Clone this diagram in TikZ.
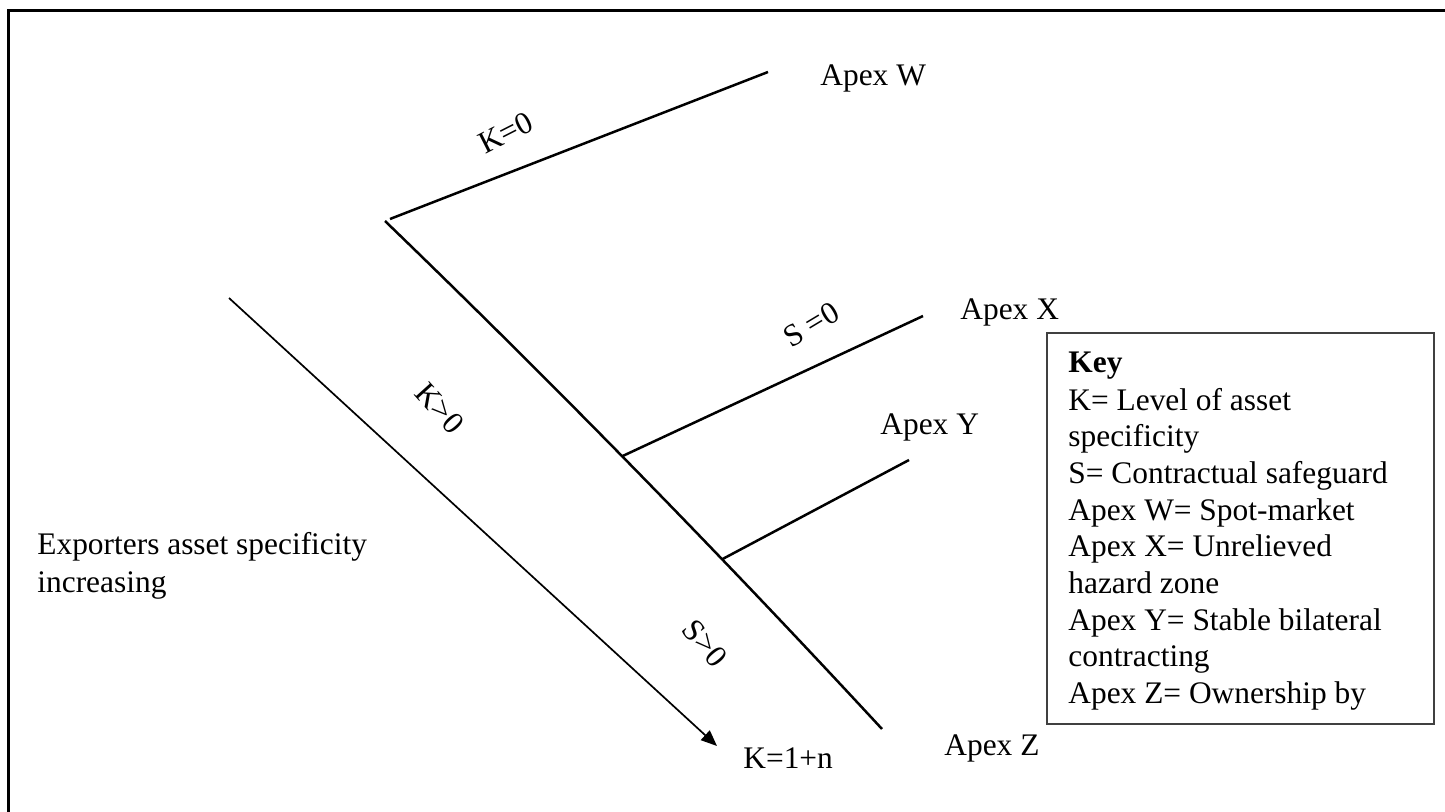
\documentclass[tikz,border=0pt]{standalone}
\usepackage{fontspec}
\setmainfont{Liberation Serif}
\usetikzlibrary{arrows.meta}
\begin{document}
\begin{tikzpicture}[x=0.5pt,y=-0.5pt,
  lbl/.style={inner sep=0pt,anchor=base west,font=\fontsize{15.7}{18.35}\selectfont},
  rlbl/.style={inner sep=0pt,anchor=center,font=\fontsize{15.7}{18.35}\selectfont},
  thickline/.style={line width=1.25pt,line cap=butt},
  arrowline/.style={line width=0.85pt,-{Triangle[length=8pt,width=6.5pt]}},
  frame/.style={line width=1.5pt},
  keybox/.style={draw=black!75,line width=0.8pt}]
\useasboundingbox (0,0) rectangle (1445,812);
% outer frame (only left and top visible)
\draw[frame] (8,812) -- (8,10.5) -- (1445,10.5);
% coordinates
\coordinate (top) at (385,221);
\coordinate (bot) at (882,729);
\coordinate (wstart) at (390,219);
\coordinate (wend) at (768,72);
\coordinate (xend) at (923,316);
\coordinate (yend) at (909,460);
\coordinate (astart) at (229,298);
\coordinate (aend) at (717,746);
% main curved line
\draw[thickline] (top) .. controls (555.5,385.6) and (721,555) ..
  coordinate[pos=0.47] (bx) coordinate[pos=0.672] (by) (bot);
% branches
\draw[thickline] (wstart) -- (wend);
\draw[thickline] (bx) -- (xend);
\draw[thickline] (by) -- (yend);
% arrow
\draw[arrowline] (astart) -- (aend);
% labels
\node[lbl] (apw) at (820,86) {Apex W};
\node[lbl] (apx) at (960,320) {Apex X};
\node[lbl] (apy) at (880,435) {Apex Y};
\node[lbl] (apz) at (944,755) {Apex Z};
\node[lbl] (kn) at (743,768) {K=1+n};
\node[rlbl,rotate=27] (k0) at (506,133) {K=0};
\node[rlbl,rotate=31] (s0) at (811,325) {S =0};
\node[rlbl,rotate=-48] (kg) at (440,408) {K>0};
\node[rlbl,rotate=-50] (sg) at (705,643) {S>0};
\node[lbl] (ex1) at (37,554) {Exporters asset specificity};
\node[lbl] (ex2) at (37,592) {increasing};
% key box
\draw[keybox] (1047,333) rectangle (1434,724);
\node[lbl] (key0) at (1068,373) {\textbf{Key}};
\node[lbl] (key1) at (1068,410) {K= Level of asset};
\node[lbl] (key2) at (1068,446) {specificity};
\node[lbl] (key3) at (1068,483) {S= Contractual safeguard};
\node[lbl] (key4) at (1068,520) {Apex W= Spot-market};
\node[lbl] (key5) at (1068,556) {Apex X= Unrelieved};
\node[lbl] (key6) at (1068,593) {hazard zone};
\node[lbl] (key7) at (1068,630) {Apex Y= Stable bilateral};
\node[lbl] (key8) at (1068,666) {contracting};
\node[lbl] (key9) at (1068,703) {Apex Z= Ownership by};
\end{tikzpicture}
\end{document}
